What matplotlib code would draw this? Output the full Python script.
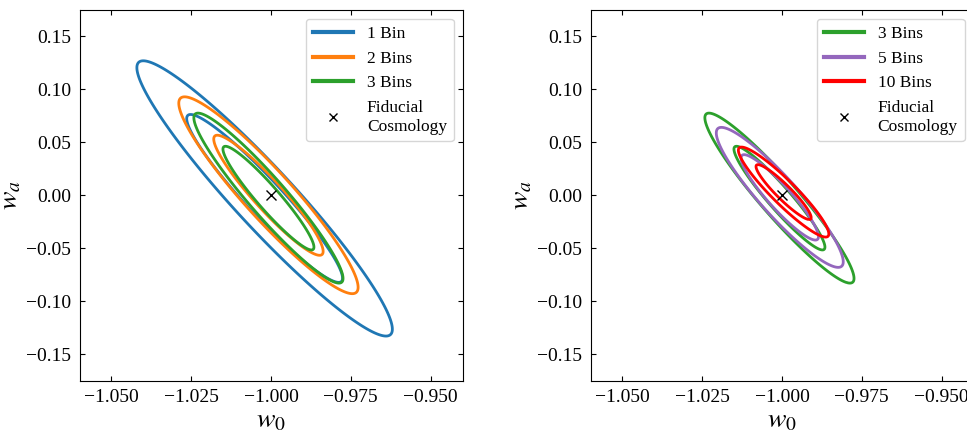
import numpy as np
import matplotlib
matplotlib.use("Agg")
import matplotlib.pyplot as plt
from matplotlib.lines import Line2D
from matplotlib.ticker import MultipleLocator

plt.rcParams['font.family'] = 'serif'
plt.rcParams['font.serif'] = ['Liberation Serif', 'DejaVu Serif']
plt.rcParams['mathtext.fontset'] = 'stix'

# fiducial cosmology
w0_fid = -1.0
wa_fid = 0.0

# 68% / 95% levels for a 2D gaussian (delta chi^2)
levels = [2.30, 6.18]

# left panel: gaussian approximations
left_labels = ['1 Bin', '2 Bins', '3 Bins']
left_colors = ['#1f77b4', '#ff7f0e', '#2ca02c']
left_w0 = [-1.002, -1.0008, -1.0008]
left_wa = [-0.003, 0.0, -0.0027]
left_sig_w0 = [0.0161, 0.0113, 0.0094]
left_sig_wa = [0.0523, 0.0374, 0.0323]
left_rho = [-0.950, -0.935, -0.945]

# right panel
right_labels = ['3 Bins', '5 Bins', '10 Bins']
right_colors = ['#2ca02c', '#9467bd', 'red']
right_w0 = [-1.0008, -1.0007, -0.9995]
right_wa = [-0.0027, -0.002, 0.003]
right_sig_w0 = [0.0094, 0.0080, 0.0057]
right_sig_wa = [0.0323, 0.0266, 0.0171]
right_rho = [-0.945, -0.92, -0.93]

gx = np.linspace(-1.06, -0.94, 500)
gy = np.linspace(-0.175, 0.175, 500)
X, Y = np.meshgrid(gx, gy)


def chi2(mx, my, sx, sy, r):
    dx = (X - mx) / sx
    dy = (Y - my) / sy
    return (dx**2 - 2 * r * dx * dy + dy**2) / (1 - r**2)


def panel(ax, labels, colors, mw0, mwa, sw0, swa, rho):
    handles = []
    for i in range(len(labels)):
        ax.contour(X, Y, chi2(mw0[i], mwa[i], sw0[i], swa[i], rho[i]),
                   levels=levels, colors=colors[i], linewidths=2.0)
        handles.append(Line2D([], [], color=colors[i], lw=3, label=labels[i]))
    ax.plot(w0_fid, wa_fid, 'kx', ms=7)
    handles.append(Line2D([], [], color='k', marker='x', ls='none', ms=6,
                          label='Fiducial\nCosmology'))
    ax.legend(handles=handles, loc='upper right', fontsize=12.5, handlelength=2.3)
    ax.set_xlim(-1.06, -0.94)
    ax.set_ylim(-0.175, 0.175)
    ax.xaxis.set_major_locator(MultipleLocator(0.025))
    ax.yaxis.set_major_locator(MultipleLocator(0.05))
    ax.tick_params(direction='in', top=True, right=True, labelsize=14, pad=6)
    ax.set_xlabel(r'$w_0$', fontsize=20, labelpad=2)
    ax.set_ylabel(r'$w_a$', fontsize=20, labelpad=2)


fig = plt.figure(figsize=(9.67, 4.32), dpi=100)
ax1 = fig.add_axes([79.5 / 967, 51.5 / 432, 383 / 967, 370.5 / 432])
ax2 = fig.add_axes([590.5 / 967, 51.5 / 432, 383 / 967, 370.5 / 432])

panel(ax1, left_labels, left_colors, left_w0, left_wa,
      left_sig_w0, left_sig_wa, left_rho)
panel(ax2, right_labels, right_colors, right_w0, right_wa,
      right_sig_w0, right_sig_wa, right_rho)

fig.savefig('out.png', dpi=100)
